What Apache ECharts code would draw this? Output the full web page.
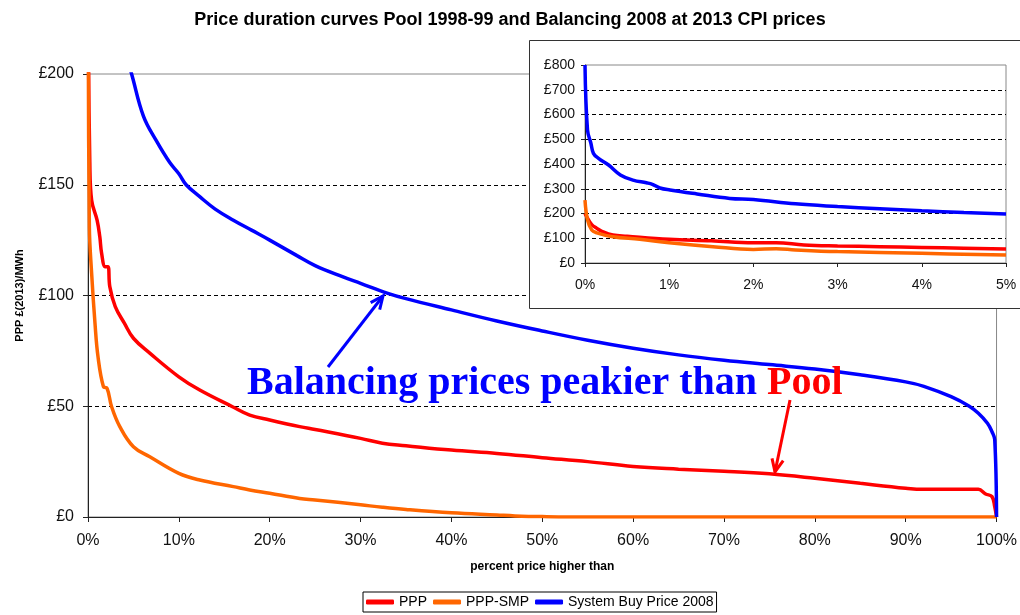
<!DOCTYPE html>
<html>
<head>
<meta charset="utf-8">
<title>Price duration curves</title>
<script src="https://cdn.jsdelivr.net/npm/echarts@6/dist/echarts.min.js"></script>
<style>
  html, body { margin: 0; padding: 0; background: #fff; }
  #chart { width: 1020px; height: 615px; }
</style>
</head>
<body>
<div id="chart"></div>
<script>
// main chart: x = percent of periods with a higher price, y = £(2013)/MWh
var pppX = [0, 0.2, 0.4, 1, 1.3, 1.5, 1.9, 2.2, 2.4, 3, 4, 5, 6.8, 10, 12.3, 15.9, 17.8, 20, 23.3, 25, 30, 32.4, 35, 40, 45, 50, 55, 60, 65, 70, 75, 80, 85, 90, 92, 95, 98, 98.8, 99.5, 99.8, 100]
var pppY = [230, 160, 143, 134, 126.5, 119, 113, 113, 104, 95, 87.5, 80.7, 74, 63.3, 57.3, 49.8, 46, 43.8, 40.8, 39.5, 35.5, 33.3, 32.2, 30.2, 28.7, 26.8, 25, 22.8, 21.6, 20.7, 19.5, 17.5, 15.2, 13, 12.5, 12.5, 12.5, 10.4, 9.2, 4.7, 0]

var smpX = [0, 0.15, 0.4, 0.77, 1.1, 1.7, 2.1, 2.6, 3.5, 5, 6.8, 10, 12.3, 16, 17.8, 20, 23.3, 25, 30, 32.4, 35, 40, 45, 47, 50, 55, 60, 100]
var smpY = [255, 131, 110, 87.4, 72.4, 58.8, 58.1, 49.8, 40.8, 31.7, 27.2, 19.7, 16.7, 13.7, 12.2, 10.7, 8.4, 7.7, 5.5, 4.4, 3.4, 1.9, 0.9, 0.5, 0.2, 0, 0, 0]

var sbpX = [0, 0.2, 0.5, 1, 1.5, 2, 2.5, 3, 4, 4.8, 6.1, 7.5, 9, 10, 10.8, 12.3, 14, 16, 18, 20, 23, 25, 28, 30, 33, 35, 40, 45, 50, 55, 60, 65, 70, 75, 80, 85, 90, 92, 95, 97, 98, 99, 99.5, 99.8, 100]
var sbpY = [800, 415, 345, 295, 272, 257, 240, 228, 211, 200, 181, 170, 160, 155, 150, 144.6, 139, 134, 129.5, 125, 118, 113.5, 108.5, 105.5, 101, 98.6, 93.5, 88.5, 84, 79.8, 76.2, 73.2, 70.8, 68.8, 66.8, 64.2, 61, 59, 54.3, 50, 46.8, 42.3, 38.5, 35, 0]

// inset: first 5% of the curves
var inPppX = [0, 0.02, 0.08, 0.14, 0.2, 0.33, 0.5, 1, 1.5, 2, 2.27, 2.6, 3, 3.5, 4, 4.5, 5]
var inPppY = [200, 187, 155, 140, 128, 113, 108, 96, 90, 82, 82, 73, 69, 66, 63, 60, 57]

var inSmpX = [0, 0.03, 0.08, 0.14, 0.33, 0.65, 1, 1.52, 2, 2.27, 2.5, 3, 4, 5]
var inSmpY = [254, 174, 133, 122, 106, 96, 82, 66, 55, 58, 53, 46, 39, 32]

var inSbpX = [0, 0.03, 0.07, 0.1, 0.16, 0.28, 0.42, 0.57, 0.73, 0.8, 0.89, 1.01, 1.33, 1.72, 2, 2.5, 3, 3.5, 4, 4.5, 5]
var inSbpY = [800, 537, 484, 443, 423, 396, 356, 335, 324, 318, 303, 295, 279, 261, 257, 239, 228, 219, 211, 204, 198]

var seriesNames = ['PPP', 'PPP-SMP', 'System Buy Price 2008']
var seriesColors = ['#ff0000', '#ff6600', '#0000ff']

var FONT = 'Liberation Sans'

function pairs (xs, ys) {
  return xs.map(function (x, i) { return [x, ys[i]] })
}

function arrow (x1, y1, x2, y2, color) {
  var a = Math.atan2(y2 - y1, x2 - x1)
  var len = 14
  var spread = 0.42
  return [
    { type: 'line', z: 20, shape: { x1: x1, y1: y1, x2: x2, y2: y2 }, style: { stroke: color, lineWidth: 3 } },
    {
      type: 'polyline',
      z: 20,
      shape: {
        points: [
          [x2 - len * Math.cos(a - spread), y2 - len * Math.sin(a - spread)],
          [x2, y2],
          [x2 - len * Math.cos(a + spread), y2 - len * Math.sin(a + spread)]
        ]
      },
      style: { stroke: color, lineWidth: 3, fill: null }
    }
  ]
}

function lineSeries (idx, xs, ys, inset) {
  return {
    name: seriesNames[idx],
    type: 'line',
    xAxisIndex: inset ? 1 : 0,
    yAxisIndex: inset ? 1 : 0,
    z: inset ? 10 : 2,
    data: pairs(xs, ys),
    showSymbol: false,
    symbol: 'none',
    smooth: 0.4,
    color: seriesColors[idx],
    lineStyle: { width: 3.5, color: seriesColors[idx] },
    animation: false
  }
}

var chart = echarts.init(document.getElementById('chart'))
chart.setOption({
  animation: false,
  textStyle: { fontFamily: FONT },
  title: {
    text: 'Price duration curves Pool 1998-99 and Balancing 2008 at 2013 CPI prices',
    left: 'center',
    top: 6,
    textStyle: { fontSize: 18, fontWeight: 'bold', color: '#000', fontFamily: FONT }
  },
  legend: {
    data: seriesNames,
    left: 363,
    top: 592,
    padding: [3, 3],
    itemGap: 6,
    itemWidth: 28,
    itemHeight: 5,
    icon: 'roundRect',
    borderColor: '#000',
    borderWidth: 1,
    textStyle: { fontSize: 14, color: '#000', fontFamily: FONT }
  },
  grid: [
    { left: 88, right: 21, top: 74, bottom: 98, show: true, borderColor: '#888', borderWidth: 1 },
    { left: 585, right: 14, top: 65, bottom: 352, show: true, borderColor: '#888', borderWidth: 1, z: 10 }
  ],
  xAxis: [
    {
      type: 'value',
      gridIndex: 0,
      min: 0,
      max: 100,
      interval: 10,
      name: 'percent price higher than',
      nameLocation: 'middle',
      nameGap: 44,
      nameTextStyle: { fontSize: 12, fontWeight: 'bold', color: '#000' },
      axisLine: { show: true, lineStyle: { color: '#222', width: 1 } },
      axisTick: { show: true, length: 5, lineStyle: { color: '#222' } },
      axisLabel: { formatter: '{value}%', fontSize: 16, color: '#111', margin: 16 },
      splitLine: { show: false }
    },
    {
      type: 'value',
      gridIndex: 1,
      z: 10,
      min: 0,
      max: 5,
      interval: 1,
      axisLine: { show: true, lineStyle: { color: '#222', width: 1 } },
      axisTick: { show: true, length: 4, lineStyle: { color: '#222' } },
      axisLabel: { formatter: '{value}%', fontSize: 14, color: '#111', margin: 15 },
      splitLine: { show: false }
    }
  ],
  yAxis: [
    {
      type: 'value',
      gridIndex: 0,
      min: 0,
      max: 200,
      interval: 50,
      name: 'PPP £(2013)/MWh',
      nameLocation: 'middle',
      nameGap: 63,
      nameTextStyle: { fontSize: 11, fontWeight: 'bold', color: '#000' },
      axisLine: { show: true, lineStyle: { color: '#222', width: 1 } },
      axisTick: { show: true, length: 5, lineStyle: { color: '#222' } },
      axisLabel: { formatter: '£{value}', fontSize: 16, color: '#111', margin: 14 },
      splitLine: { show: true, showMinLine: false, showMaxLine: false, lineStyle: { color: '#000', type: [4, 3], width: 1 } }
    },
    {
      type: 'value',
      gridIndex: 1,
      z: 10,
      min: 0,
      max: 800,
      interval: 100,
      axisLine: { show: true, lineStyle: { color: '#222', width: 1 } },
      axisTick: { show: true, length: 4, lineStyle: { color: '#222' } },
      axisLabel: { formatter: '£{value}', fontSize: 14, color: '#111', margin: 10 },
      splitLine: { show: true, showMinLine: false, showMaxLine: false, lineStyle: { color: '#000', type: [4, 3], width: 1 } }
    }
  ],
  graphic: {
    elements: [
      // white box behind the inset
      { type: 'rect', z: 5, shape: { x: 529.5, y: 40.5, width: 500, height: 268 }, style: { fill: '#fff', stroke: '#333', lineWidth: 1 } },
      {
        type: 'text',
        z: 20,
        x: 247,
        y: 384,
        style: {
          text: '{b|Balancing prices peakier than }{r|Pool}',
          verticalAlign: 'middle',
          font: 'bold 40px "Liberation Serif"',
          rich: {
            b: { fill: '#0000ff', font: 'bold 40px "Liberation Serif"' },
            r: { fill: '#ff0000', font: 'bold 40px "Liberation Serif"' }
          }
        }
      }
    ].concat(arrow(328, 367, 383, 296, '#0000ff'), arrow(790, 400, 775, 472, '#ff0000'))
  },
  series: [
    lineSeries(0, pppX, pppY, false),
    lineSeries(1, smpX, smpY, false),
    lineSeries(2, sbpX, sbpY, false),
    lineSeries(0, inPppX, inPppY, true),
    lineSeries(1, inSmpX, inSmpY, true),
    lineSeries(2, inSbpX, inSbpY, true)
  ]
})
</script>
</body>
</html>
